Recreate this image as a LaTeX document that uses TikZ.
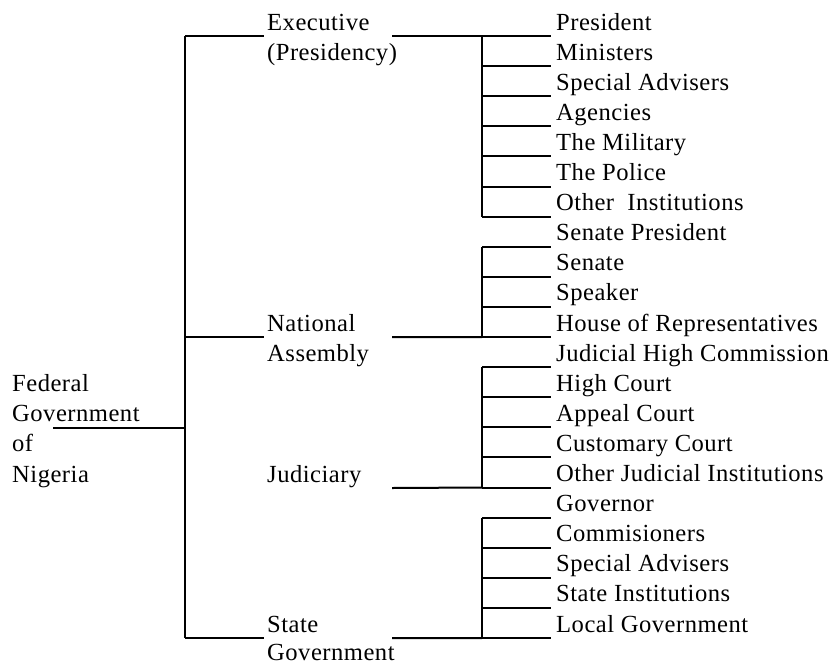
\documentclass[tikz,border=0pt]{standalone}
\usepackage{fontspec}
\setmainfont{Liberation Serif}[LetterSpace=2]
\begin{document}
\begin{tikzpicture}[x=1pt,y=-1pt,
  lbl/.style={anchor=base west,inner sep=0pt,font=\fontsize{24.6}{30}\selectfont},
  ln/.style={line width=2pt},
  vln/.style={line width=2.6pt}]
\useasboundingbox (0,0) rectangle (837,664);
% left texts
\node[lbl] (fed1) at (12,391) {Federal};
\node[lbl] (fed2) at (12,421) {Government};
\node[lbl] (fed3) at (12,451) {of};
\node[lbl] (fed4) at (12,482) {Nigeria};
\node[lbl] (exe1) at (267,30) {Executive};
\node[lbl] (exe2) at (267,60) {(Presidency)};
\node[lbl] (nat1) at (267,331) {National};
\node[lbl] (nat2) at (267,361) {Assembly};
\node[lbl] (jud) at (267,482) {Judiciary};
\node[lbl] (sta1) at (267,632) {State};
\node[lbl] (sta2) at (267,660) {Government};
% right texts
\foreach \t [count=\i from 0] in {President,Ministers,Special Advisers,Agencies,The Military,The Police,{Other\ \ Institutions},Senate President,Senate,Speaker,House of Representatives,Judicial High Commission,High Court,Appeal Court,Customary Court,Other Judicial Institutions,Governor,Commisioners,Special Advisers,State Institutions,Local Government}{
  \node[lbl] (r\i) at (556,{30+30.1*\i}) {\t};
  \coordinate (re\i) at (551,{36+30.1*\i});
  \coordinate (rs\i) at (482,{36+30.1*\i});
  \draw[ln] (rs\i) -- (re\i);
}
% junctions
\coordinate (fedend) at (53,428);
\coordinate (mainmid) at (185,428);
\coordinate (mtop) at (185,36);
\coordinate (mnat) at (185,337);
\coordinate (mbot) at (185,638);
\coordinate (exeL) at (264,36);
\coordinate (natL) at (264,337);
\coordinate (staL) at (264,638);
\coordinate (exeR) at (392,36);
\coordinate (natR) at (392,337);
\coordinate (judR) at (392,488);
\coordinate (staR) at (392,638);
\draw[ln] (fedend) -- (mainmid);
\draw[vln] (mtop) -- (mbot);
\draw[ln] (mtop) -- (exeL);
\draw[ln] (mnat) -- (natL);
\draw[ln] (mbot) -- (staL);
\draw[ln] (exeR) -- (rs0);
\draw[ln] (natR) -- (rs10);
\draw[ln] (judR) -- (rs15);
\draw[ln] (staR) -- (rs20);
\draw[vln] (rs0) -- (rs6);
\draw[vln] (rs7) -- (rs10);
\draw[vln] (rs11) -- (rs15);
\draw[vln] (rs16) -- (rs20);
\end{tikzpicture}
\end{document}
